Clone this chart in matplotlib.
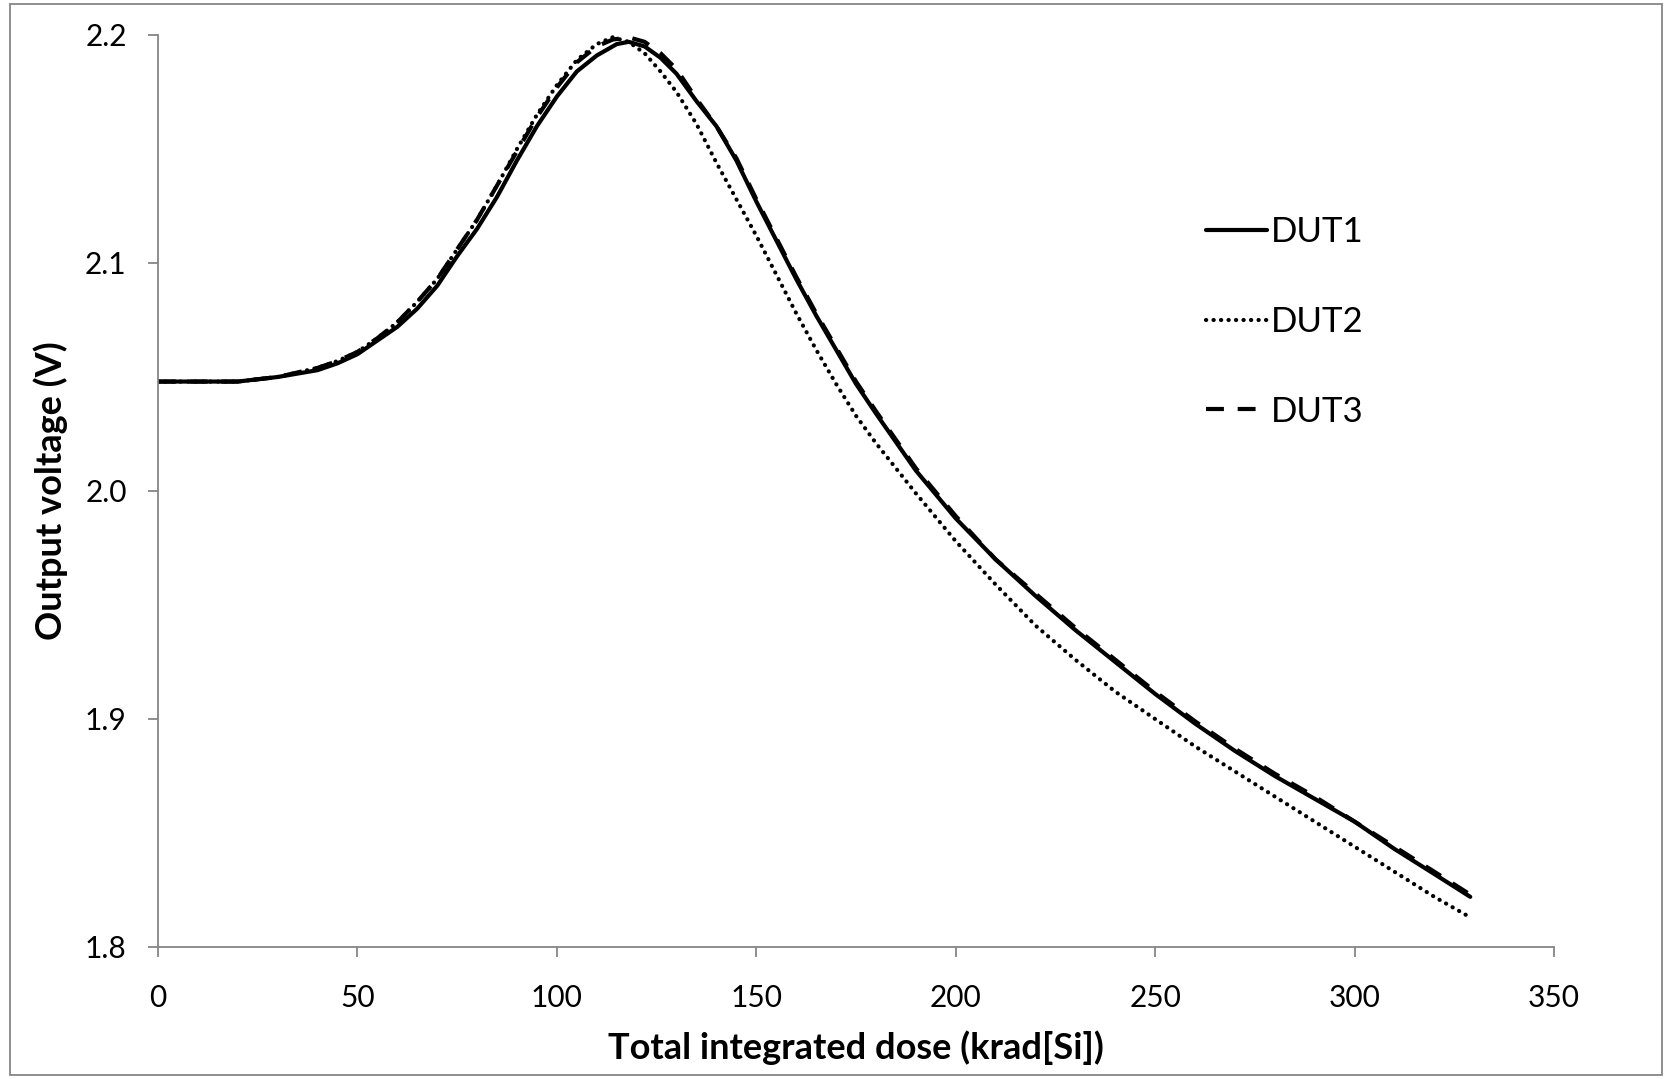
import matplotlib.pyplot as plt
from matplotlib.patches import Rectangle

plt.rcParams['font.family'] = ['Lato', 'DejaVu Sans']

# dose (krad[Si]) and output voltage (V)
dut1_x = [0, 10, 20, 30, 40, 45, 50, 55, 60, 65, 70, 75, 80, 85, 90, 95, 100, 105, 110,
          115, 118, 122, 126, 130, 135, 140, 145, 150, 155, 160, 165, 170, 175, 180, 190,
          200, 210, 220, 230, 240, 250, 260, 270, 280, 290, 300, 310, 320, 329]
dut1_y = [2.048, 2.048, 2.048, 2.050, 2.053, 2.056, 2.060, 2.066, 2.072, 2.080, 2.090, 2.103,
          2.115, 2.129, 2.145, 2.160, 2.173, 2.184, 2.191, 2.196, 2.197, 2.195, 2.190, 2.183,
          2.171, 2.160, 2.145, 2.127, 2.110, 2.093, 2.077, 2.062, 2.047, 2.034, 2.009, 1.988,
          1.970, 1.954, 1.939, 1.925, 1.911, 1.898, 1.886, 1.875, 1.865, 1.855, 1.843, 1.832,
          1.822]

dut2_x = [0, 10, 20, 30, 40, 45, 50, 55, 60, 65, 70, 75, 80, 85, 90, 95, 100, 105, 110,
          114, 118, 122, 126, 130, 135, 140, 145, 150, 155, 160, 165, 170, 175, 180, 190,
          200, 210, 220, 230, 240, 250, 260, 270, 280, 290, 300, 310, 320, 329]
dut2_y = [2.048, 2.048, 2.048, 2.050, 2.054, 2.057, 2.061, 2.067, 2.074, 2.083, 2.093, 2.106,
          2.119, 2.134, 2.150, 2.165, 2.178, 2.189, 2.196, 2.199, 2.197, 2.192, 2.184, 2.175,
          2.161, 2.144, 2.128, 2.112, 2.095, 2.078, 2.062, 2.047, 2.033, 2.021, 1.999, 1.978,
          1.959, 1.941, 1.926, 1.912, 1.900, 1.888, 1.877, 1.866, 1.855, 1.844, 1.833, 1.822,
          1.813]

dut3_x = [0, 10, 20, 30, 40, 45, 50, 55, 60, 65, 70, 75, 80, 85, 90, 95, 100, 105, 110,
          114, 118, 122, 126, 130, 135, 140, 145, 150, 155, 160, 165, 170, 175, 180, 190,
          200, 210, 220, 230, 240, 250, 260, 270, 280, 290, 300, 310, 320, 329]
dut3_y = [2.048, 2.048, 2.048, 2.050, 2.054, 2.057, 2.061, 2.067, 2.074, 2.083, 2.093, 2.106,
          2.119, 2.134, 2.149, 2.164, 2.177, 2.188, 2.195, 2.198, 2.199, 2.197, 2.192, 2.185,
          2.172, 2.160, 2.146, 2.128, 2.111, 2.094, 2.078, 2.063, 2.048, 2.035, 2.010, 1.989,
          1.970, 1.955, 1.940, 1.926, 1.912, 1.899, 1.887, 1.876, 1.866, 1.855, 1.844, 1.833,
          1.823]

x_ticks = [0, 50, 100, 150, 200, 250, 300, 350]
y_ticks = [1.8, 1.9, 2.0, 2.1, 2.2]

fig = plt.figure(figsize=(16.65, 10.79), dpi=100)
ax = fig.add_axes([158/1665, 1 - 947/1079, 1396/1665, 912/1079])

ax.plot(dut1_x, dut1_y, color='black', lw=3.0, solid_capstyle='round', label='DUT1')
ax.plot(dut2_x, dut2_y, color='black', lw=3.0, linestyle=(0, (0.05, 1.75)),
        dash_capstyle='round', label='DUT2')
ax.plot(dut3_x, dut3_y, color='black', lw=3.0, linestyle=(0, (4.3, 3.3)), label='DUT3')

ax.set_xlim(0, 350)
ax.set_ylim(1.8, 2.2)
ax.set_xticks(x_ticks)
ax.set_yticks(y_ticks)
ax.set_yticklabels(['%.1f' % v for v in y_ticks])

gray = '#868686'
for s in ['top', 'right']:
    ax.spines[s].set_visible(False)
for s in ['left', 'bottom']:
    ax.spines[s].set_color(gray)
    ax.spines[s].set_linewidth(1.3)
ax.tick_params(direction='out', length=7.5, width=1.3, color=gray, labelsize=21.5)
ax.tick_params(axis='x', pad=19)
ax.tick_params(axis='y', pad=15)

ax.set_xlabel('Total integrated dose (krad[Si])', fontsize=26, fontweight='bold', labelpad=13)
ax.set_ylabel('Output voltage (V)', fontsize=26, fontweight='bold', labelpad=12)

ax.legend(loc='upper left', bbox_to_anchor=(1189/1665, 1 - 199/1079),
          bbox_transform=fig.transFigure, frameon=False, fontsize=25,
          handlelength=1.75, handletextpad=0.1, labelspacing=1.66, borderpad=0)

# outer chart frame
fig.patches.append(Rectangle((10/1665, 4/1079), 1652/1665, 1071/1079,
                             transform=fig.transFigure, fill=False,
                             edgecolor=gray, lw=1.3))

fig.savefig('out.png', dpi=100)
